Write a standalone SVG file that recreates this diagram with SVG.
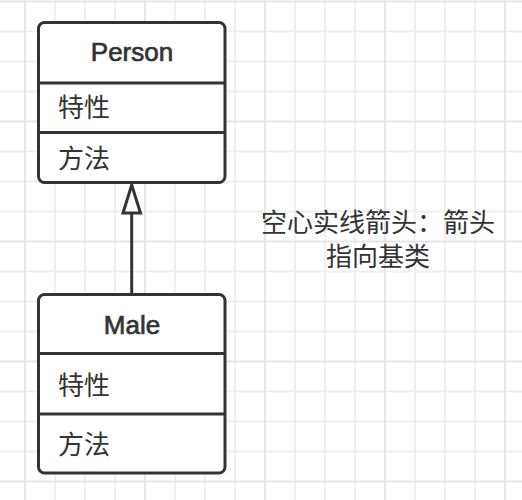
<svg xmlns="http://www.w3.org/2000/svg" width="522" height="500" viewBox="0 0 522 500">
<defs>
<style>
.minor{stroke:#f0f0f0;stroke-width:2}
.major{stroke:#e6e6e6;stroke-width:2}
.box{fill:#ffffff;stroke:#333333;stroke-width:3}
.div{stroke:#333333;stroke-width:3}
.t{font-family:"Liberation Sans","Noto Sans CJK SC",sans-serif;font-size:26px;fill:#333333}
.c{text-anchor:middle}
.h{stroke:#333333;stroke-width:0.7}
</style>
</defs>
<rect width="522" height="500" fill="#ffffff"/>
<g id="grid">
<path class="minor" d="M55 0V500M85 0V500M115 0V500M175 0V500M205 0V500M235 0V500M295 0V500M325 0V500M355 0V500M415 0V500M445 0V500M475 0V500M0 31.5H522M0 61.5H522M0 91.5H522M0 151.5H522M0 181.5H522M0 211.5H522M0 271.5H522M0 301.5H522M0 331.5H522M0 391.5H522M0 421.5H522M0 451.5H522"/>
<path class="major" d="M25 0V500M145 0V500M265 0V500M385 0V500M505 0V500M0 1.5H522M0 121.5H522M0 241.5H522M0 361.5H522M0 481.5H522"/>
</g>
<g id="connectors">
<line x1="131.7" y1="213" x2="131.7" y2="294" stroke="#333333" stroke-width="3"/>
<polygon points="131.7,185 123,213 140.5,213" fill="#ffffff" stroke="#333333" stroke-width="3" stroke-linejoin="miter"/>
</g>
<g id="person">
<rect class="box" x="38.5" y="22.5" width="186.5" height="160" rx="6"/>
<line class="div" x1="38.5" y1="83" x2="225" y2="83"/>
<line class="div" x1="38.5" y1="132.5" x2="225" y2="132.5"/>
<text class="t c h" x="132" y="61">Person</text>
<text class="t" x="58" y="117">特性</text>
<text class="t" x="58" y="167.5">方法</text>
</g>
<g id="male">
<rect class="box" x="38.5" y="294.5" width="186.5" height="178.5" rx="6"/>
<line class="div" x1="38.5" y1="353.5" x2="225" y2="353.5"/>
<line class="div" x1="38.5" y1="414" x2="225" y2="414"/>
<text class="t c h" x="132" y="333.5">Male</text>
<text class="t" x="58" y="394.5">特性</text>
<text class="t" x="58" y="453.5">方法</text>
</g>
<g id="note">
<text class="t c" x="378" y="231.5">空心实线箭头：箭头</text>
<text class="t c" x="378" y="265.5">指向基类</text>
</g>
</svg>
